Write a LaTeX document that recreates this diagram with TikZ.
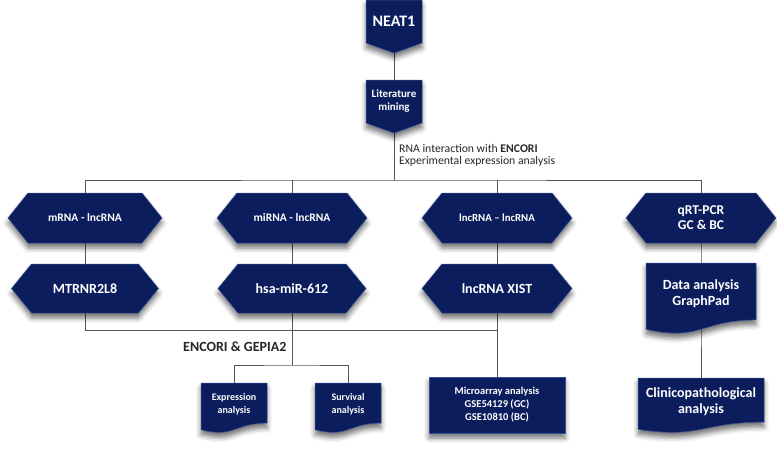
\documentclass[tikz,border=0pt]{standalone}
\usepackage{fontspec}
\setmainfont{Carlito}
\usetikzlibrary{calc,shadows.blur}
\definecolor{navy}{RGB}{11,29,92}
\definecolor{navyedge}{RGB}{55,80,150}
\definecolor{linegray}{RGB}{85,85,85}
\pgfdeclarelayer{lines}
\pgfdeclarelayer{shapes}
\pgfsetlayers{lines,shapes,main}
\newcommand\hexpath[2]{%
  \path[shp] (#1.west) -- ([xshift=#2pt]#1.north west) -- ([xshift=-#2pt]#1.north east)
    -- (#1.east) -- ([xshift=-#2pt]#1.south east) -- ([xshift=#2pt]#1.south west) -- cycle;}
\newcommand\penpath[2]{%
  \path[shp] (#1.north west) -- (#1.north east) -- (#1.south east)
    -- ([yshift=-#2pt]#1.south) -- (#1.south west) -- cycle;}
\newcommand\docpath[2]{%
  \path[shp] (#1.north west) -- (#1.north east) -- ($(#1.north east)+(0,{0.802*#2})$)
    .. controls ($(#1.north)+(0,{0.802*#2})$) and ($(#1.north)+(0,{1.107*#2})$)
    .. ($(#1.north west)+(0,{0.934*#2})$) -- cycle;}
\begin{document}
\begin{tikzpicture}[x=1pt,y=-1pt,
  lbl/.style={text=white, align=center, inner sep=0pt, outer sep=0pt},
  shp/.style={fill=navy, draw=navyedge, line width=0.5pt,
    blur shadow={shadow xshift=0pt, shadow yshift=-5pt, shadow blur radius=5pt, shadow opacity=55}},
  con/.style={draw=linegray, line width=0.8pt}]
\useasboundingbox (0,0) rectangle (777,450);

% nodes (text)
\node[lbl, minimum width=56pt, minimum height=43pt, font=\fontsize{16}{18}\selectfont\bfseries] (neat) at (394,21.5) {NEAT1};
\node[lbl, minimum width=56pt, minimum height=43pt, font=\fontsize{11}{13}\selectfont\bfseries] (lit) at (394,101.5) {Literature\\mining};
\node[anchor=west, inner sep=0pt, align=left, font=\fontsize{11.7}{11.5}\selectfont, text=black!85] (rna) at (399,155.5)
  {RNA interaction with \textbf{ENCORI}\\Experimental expression analysis};

\node[lbl, minimum width=154pt, minimum height=50pt, font=\fontsize{11.5}{13}\selectfont\bfseries] (h1) at (85,218) {mRNA - lncRNA};
\node[lbl, minimum width=150pt, minimum height=50pt, font=\fontsize{11.5}{13}\selectfont\bfseries] (h2) at (292,218) {miRNA - lncRNA};
\node[lbl, minimum width=150pt, minimum height=50pt, font=\fontsize{10.8}{13}\selectfont\bfseries] (h3) at (497,218) {lncRNA – lncRNA};
\node[lbl, minimum width=150pt, minimum height=50pt, font=\fontsize{13.5}{15}\selectfont\bfseries] (h4) at (701,218) {qRT-PCR\\GC \& BC};

\node[lbl, minimum width=147pt, minimum height=49pt, font=\fontsize{14}{16}\selectfont\bfseries] (m1) at (85,288.5) {MTRNR2L8};
\node[lbl, minimum width=148pt, minimum height=49pt, font=\fontsize{14}{16}\selectfont\bfseries] (m2) at (292,288.5) {hsa-miR-612};
\node[lbl, minimum width=150pt, minimum height=49pt, font=\fontsize{14}{16}\selectfont\bfseries] (m3) at (497,288.5) {lncRNA XIST};
\node[lbl, minimum width=110pt, minimum height=61pt, font=\fontsize{14}{16}\selectfont\bfseries] (data) at (701,293.5) {Data analysis\\GraphPad};

\node[anchor=west, inner sep=0pt, font=\fontsize{14}{16}\selectfont\bfseries, text=black!85] (encori) at (183,346.5) {ENCORI \& GEPIA2};

\node[lbl, minimum width=66pt, minimum height=43pt, font=\fontsize{10}{13.5}\selectfont\bfseries] (expr) at (234,404.5) {Expression\\analysis};
\node[lbl, minimum width=66pt, minimum height=43pt, font=\fontsize{10}{13.5}\selectfont\bfseries] (surv) at (348,404.5) {Survival\\analysis};
\node[lbl, minimum width=136pt, minimum height=56pt, font=\fontsize{10.5}{13}\selectfont\bfseries] (micro) at (497,405)
  {Microarray analysis\\GSE54129 (GC)\\GSE10810 (BC)};
\node[lbl, minimum width=126pt, minimum height=47pt, font=\fontsize{14}{16}\selectfont\bfseries] (clin) at (701,401.5) {Clinicopathological\\analysis};

\coordinate (bus) at (394,180);
\coordinate (jl) at (497,330);
\coordinate (gb) at (292,365);

% shapes
\begin{pgfonlayer}{shapes}
  \penpath{neat}{10}
  \penpath{lit}{10}
  \hexpath{h1}{20}
  \hexpath{h2}{20}
  \hexpath{h3}{20}
  \hexpath{h4}{20}
  \hexpath{m1}{20}
  \hexpath{m2}{20}
  \hexpath{m3}{20}
  \docpath{data}{71}
  \docpath{clin}{55}
  \docpath{expr}{50}
  \docpath{surv}{50}
  \path[shp] (micro.north west) rectangle (micro.south east);
\end{pgfonlayer}

% connectors
\begin{pgfonlayer}{lines}
  \draw[con] (neat.center) -- (lit.center);
  \draw[con] (lit.center) -- (bus);
  \draw[con] (h1.center) |- (bus) -| (h4.center);
  \draw[con] (h2.center) -- (h2.center |- bus);
  \draw[con] (h3.center) -- (h3.center |- bus);
  \draw[con] (h1.center) -- (m1.center);
  \draw[con] (h2.center) -- (m2.center);
  \draw[con] (h3.center) -- (m3.center);
  \draw[con] (h4.center) -- (data.center) -- (clin.center);
  \draw[con] (m1.center) |- (jl);
  \draw[con] (m3.center) -- (micro.center);
  \draw[con] (m2.center) -- (gb);
  \draw[con] (expr.center) |- (gb) -| (surv.center);
\end{pgfonlayer}
\end{tikzpicture}
\end{document}
